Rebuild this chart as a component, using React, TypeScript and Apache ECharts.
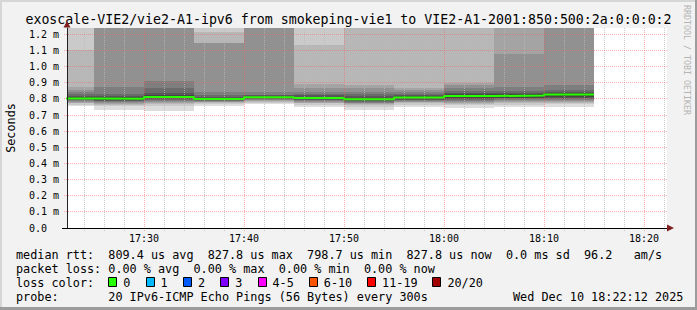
import React, { useEffect, useRef } from "react";
import * as echarts from "echarts";

// ---- data (time in minutes after 17:00, latency in milliseconds) ----
const segmentEndMin = [25, 30, 35, 40, 45, 50, 55, 60, 65, 70, 75];
const stepMin = 5;
const viewStartMin = 22.3;
const viewEndMin = 82.3;

const medianMs = [0.803, 0.801, 0.812, 0.8, 0.811, 0.806, 0.7987, 0.809, 0.818, 0.822, 0.8278];

// 20 sorted ping round-trip times per 5-minute step (smoke)
const pings0 = [0.757, 0.765, 0.772, 0.778, 0.783, 0.787, 0.791, 0.795, 0.798, 0.8, 0.806, 0.812, 0.82, 0.83, 0.842, 0.855, 0.875, 1.105, 1.45, 2.1];
const pings1 = [0.733, 0.757, 0.765, 0.77, 0.775, 0.78, 0.785, 0.79, 0.794, 0.798, 0.804, 0.81, 0.818, 0.83, 0.875, 1.3, 1.42, 1.6, 1.9, 2.6];
const pings2 = [0.727, 0.757, 0.767, 0.775, 0.782, 0.788, 0.794, 0.799, 0.803, 0.808, 0.816, 0.825, 0.84, 0.87, 0.91, 1.3, 1.38, 1.55, 1.8, 2.4];
const pings3 = [0.755, 0.77, 0.775, 0.78, 0.784, 0.787, 0.79, 0.793, 0.796, 0.798, 0.802, 0.808, 0.815, 0.825, 0.845, 1.145, 1.15, 1.217, 1.5, 2.2];
const pings4 = [0.768, 0.776, 0.782, 0.787, 0.791, 0.795, 0.799, 0.802, 0.805, 0.808, 0.814, 0.818, 0.822, 0.827, 0.845, 1.28, 1.4, 1.55, 1.9, 2.5];
const pings5 = [0.752, 0.765, 0.772, 0.778, 0.783, 0.787, 0.791, 0.795, 0.799, 0.802, 0.81, 0.815, 0.822, 0.832, 0.845, 0.87, 0.895, 1.137, 1.5, 2.3];
const pings6 = [0.729, 0.75, 0.76, 0.767, 0.773, 0.778, 0.783, 0.788, 0.792, 0.796, 0.8015, 0.808, 0.816, 0.828, 0.845, 0.865, 0.885, 1.3, 1.6, 2.2];
const pings7 = [0.752, 0.765, 0.773, 0.779, 0.784, 0.788, 0.792, 0.796, 0.8, 0.805, 0.813, 0.818, 0.824, 0.832, 0.842, 0.855, 0.87, 1.3, 1.55, 2.1];
const pings8 = [0.745, 0.762, 0.771, 0.778, 0.784, 0.789, 0.794, 0.799, 0.804, 0.812, 0.824, 0.829, 0.835, 0.848, 0.865, 0.885, 0.9, 1.35, 1.7, 2.4];
const pings9 = [0.75, 0.765, 0.774, 0.781, 0.787, 0.792, 0.797, 0.803, 0.809, 0.817, 0.827, 0.832, 0.838, 0.848, 0.875, 1.08, 1.3, 1.5, 1.8, 2.5];
const pings10 = [0.75, 0.768, 0.777, 0.784, 0.79, 0.795, 0.8, 0.806, 0.813, 0.8235, 0.832, 0.838, 0.845, 0.858, 0.885, 1.3, 1.45, 1.7, 2.0, 2.8];
const pingsMs = [pings0, pings1, pings2, pings3, pings4, pings5, pings6, pings7, pings8, pings9, pings10];

const majorTimeTicks = [30, 40, 50, 60, 70, 80];
const minorTimeTicks = [24, 26, 28, 32, 34, 36, 38, 42, 44, 46, 48, 52, 54, 56, 58, 62, 64, 66, 68, 72, 74, 76, 78, 82];
const yTickValues = [0, 0.1, 0.2, 0.3, 0.4, 0.5, 0.6, 0.7, 0.8, 0.9, 1.0, 1.1, 1.2];
const yAxisMax = 1.24;

const titleText = "exoscale-VIE2/vie2-A1-ipv6 from smokeping-vie1 to VIE2-A1-2001:850:500:2a:0:0:0:2";
const legendLine1 = "median rtt:  809.4 us avg  827.8 us max  798.7 us min  827.8 us now  0.0 ms sd  96.2   am/s";
const legendLine2 = "packet loss: 0.00 % avg  0.00 % max  0.00 % min  0.00 % now";
const legendLine3 = "loss color:";
const legendLine4 = "probe:       20 IPv6-ICMP Echo Pings (56 Bytes) every 300s";
const dateText = "Wed Dec 10 18:22:12 2025";
const lossLabels = ["0", "1", "2", "3", "4-5", "6-10", "11-19", "20/20"];
const lossColors = ["#26ff00", "#00b8ff", "#0059ff", "#7e00ff", "#ff00ff", "#ff5500", "#ff0000", "#a10000"];
const smokeGrays = [221, 202, 183, 164, 145, 126, 107, 88, 69, 50];

const MONO = "'DejaVu Sans Mono', monospace";
const CW = 7.1;
const LX = 16;

function fmtTime(v: number) {
  const m = Math.round(v);
  const h = 17 + Math.floor(m / 60);
  return `${h}:${String(m % 60).padStart(2, "0")}`;
}

function tokens(line: string) {
  const out: { col: number; text: string }[] = [];
  const re = /\S+/g;
  let m;
  while ((m = re.exec(line))) out.push({ col: m.index, text: m[0] });
  return out;
}

function legendText(line: string, y: number, startCol = 0) {
  return tokens(line).map((t) => ({
    type: "text",
    silent: true,
    x: LX + (t.col + startCol) * CW,
    y,
    style: { text: t.text, font: `11.8px ${MONO}`, fill: "#000", align: "left", verticalAlign: "middle" },
  }));
}

const majorGrid = "rgba(255,90,90,0.48)";
const minorGrid = "rgba(185,185,185,0.75)";

function vGridSeries(values: number[], color: string, z: number) {
  return {
    type: "custom",
    xAxisIndex: 0,
    silent: true,
    clip: false,
    z,
    data: values.map((v) => [v]),
    encode: { x: 0 },
    renderItem: (params: any, api: any) => {
      const t = api.value(0);
      const a = api.coord([t, yAxisMax]);
      const b = api.coord([t, 0]);
      const x = Math.floor(a[0]) + 0.5;
      return {
        type: "line",
        shape: { x1: x, y1: Math.round(a[1]), x2: x, y2: Math.round(b[1]) + 3 },
        style: { stroke: color, lineWidth: 1, lineDash: [1, 1] },
      };
    },
  };
}

function hGridSeries(values: number[], color: string, z: number) {
  return {
    type: "custom",
    xAxisIndex: 0,
    silent: true,
    clip: false,
    z,
    data: values.map((v) => [viewStartMin, v]),
    encode: { x: 0, y: 1 },
    renderItem: (params: any, api: any) => {
      const v = api.value(1);
      const a = api.coord([viewStartMin, v]);
      const b = api.coord([viewEndMin, v]);
      const y = Math.floor(a[1]) + 0.5;
      return {
        type: "line",
        shape: { x1: Math.round(a[0]) - 3, y1: y, x2: Math.round(b[0]) + 1, y2: y },
        style: { stroke: color, lineWidth: 1, lineDash: [1, 1] },
      };
    },
  };
}

export default function App() {
  const ref = useRef<HTMLDivElement>(null);
  useEffect(() => {
    if (!ref.current) return;
    const chart = echarts.init(ref.current, undefined, { renderer: "svg" });

    const graphics: any[] = [];
    graphics.push({ type: "rect", silent: true, shape: { x: 0, y: 0, width: 697, height: 2 }, style: { fill: "#d6d6d6" } });
    graphics.push({ type: "rect", silent: true, shape: { x: 0, y: 0, width: 2, height: 310 }, style: { fill: "#d6d6d6" } });
    graphics.push({ type: "rect", silent: true, shape: { x: 0, y: 307, width: 697, height: 3 }, style: { fill: "#9c9c9c" } });
    graphics.push({ type: "rect", silent: true, shape: { x: 695, y: 0, width: 2, height: 310 }, style: { fill: "#9c9c9c" } });
    graphics.push({
      type: "text", silent: true, x: 348.5, y: 19,
      style: { text: titleText, font: `13.25px ${MONO}`, fill: "#000", align: "center", verticalAlign: "middle" },
    });
    graphics.push({
      type: "text", silent: true, x: 11, y: 128, rotation: Math.PI / 2,
      style: { text: "Seconds", font: `11.8px ${MONO}`, fill: "#000", align: "center", verticalAlign: "middle" },
    });
    graphics.push({
      type: "text", silent: true, x: 686.5, y: 60, rotation: -Math.PI / 2,
      style: { text: "RRDTOOL / TOBI OETIKER", font: `8.3px ${MONO}`, fill: "#b4b4b4", align: "center", verticalAlign: "middle" },
    });
    graphics.push({ type: "polygon", silent: true, z: 10, shape: { points: [[63.5, 27.5], [70.5, 27.5], [67, 21]] }, style: { fill: "#7f1f1f" } });
    graphics.push({ type: "polygon", silent: true, z: 10, shape: { points: [[667, 224.5], [667, 231.5], [674, 228]] }, style: { fill: "#7f1f1f" } });
    graphics.push({ type: "line", silent: true, shape: { x1: 62, y1: 228.5, x2: 67, y2: 228.5 }, style: { stroke: "#000", lineWidth: 1 } });

    graphics.push(...legendText(legendLine1, 254.5));
    graphics.push(...legendText(legendLine2, 268.5));
    graphics.push(...legendText(legendLine3, 282.5));
    graphics.push(...legendText(legendLine4, 296.5));
    graphics.push(...legendText(dateText, 296.5, 70));

    let sx = LX + 13 * CW;
    lossLabels.forEach((lab, i) => {
      graphics.push({
        type: "rect", silent: true,
        shape: { x: Math.round(sx) + 0.5, y: 277.5, width: 8, height: 9 },
        style: { fill: lossColors[i], stroke: "#000", lineWidth: 1 },
      });
      graphics.push({
        type: "text", silent: true, x: sx + 15, y: 282.5,
        style: { text: lab, font: `11.8px ${MONO}`, fill: "#000", align: "left", verticalAlign: "middle" },
      });
      sx += 15 + lab.length * 7.0 + 15.3;
    });

    const medianData = segmentEndMin.map((e, i) => [e - stepMin, medianMs[i]]);
    medianData.push([segmentEndMin[segmentEndMin.length - 1], medianMs[medianMs.length - 1]]);

    chart.setOption({
      animation: false,
      backgroundColor: "#f2f2f2",
      grid: { left: 67, top: 28, width: 600, height: 200, show: true, backgroundColor: "#ffffff", borderWidth: 0 },
      xAxis: {
        type: "value", min: viewStartMin, max: viewEndMin, position: "bottom", z: 8,
        axisLine: { show: true, lineStyle: { color: "#000", width: 1 } },
        axisTick: { show: false, customValues: majorTimeTicks },
        axisLabel: { customValues: majorTimeTicks, formatter: fmtTime, fontFamily: MONO, fontSize: 10, color: "#000", margin: 5 },
        splitLine: { show: false },
      },
      yAxis: {
        type: "value", min: 0, max: yAxisMax, z: 8,
        axisLine: { show: true, lineStyle: { color: "#222", width: 1 } },
        axisTick: { show: false, customValues: yTickValues },
        axisLabel: {
          customValues: yTickValues,
          formatter: (v: number) => (Math.abs(v) < 1e-9 ? "0.0" : v.toFixed(1) + " m"),
          fontFamily: MONO, fontSize: 10, color: "#000", align: "left", margin: 38,
        },
        splitLine: { show: false },
      },
      graphic: graphics,
      series: [
        {
          type: "custom",
          xAxisIndex: 0,
          clip: true,
          silent: true,
          z: 2,
          data: segmentEndMin.map((e, i) => [e - stepMin, e, medianMs[i]]),
          encode: { x: [0, 1], y: 2 },
          renderItem: (params: any, api: any) => {
            const i = params.dataIndex;
            const p = pingsMs[i];
            const x0 = api.value(0);
            const x1 = api.value(1);
            const children: any[] = [];
            for (let b = 0; b < 10; b++) {
              const lo = p[b];
              const hi = p[19 - b];
              const a = api.coord([x0, hi]);
              const c = api.coord([x1, lo]);
              const g = smokeGrays[b];
              const left = Math.round(a[0]);
              const right = Math.round(c[0]);
              const top = Math.round(a[1]);
              const bottom = Math.round(c[1]);
              children.push({
                type: "rect",
                shape: { x: left, y: top, width: right - left, height: bottom - top },
                style: { fill: `rgb(${g},${g},${g})` },
              });
            }
            return { type: "group", children };
          },
        },
        vGridSeries(minorTimeTicks, minorGrid, 4),
        vGridSeries(majorTimeTicks, majorGrid, 5),
        hGridSeries(yTickValues.filter((v) => v > 0), majorGrid, 5),
        {
          type: "line",
          xAxisIndex: 0,
          step: "end",
          symbol: "none",
          silent: true,
          z: 7,
          data: medianData,
          lineStyle: { color: "#26ff00", width: 2 },
        },
      ],
    });
    return () => chart.dispose();
  }, []);
  return <div ref={ref} style={{ position: "fixed", left: 0, top: 0, width: 697, height: 310 }} />;
}
